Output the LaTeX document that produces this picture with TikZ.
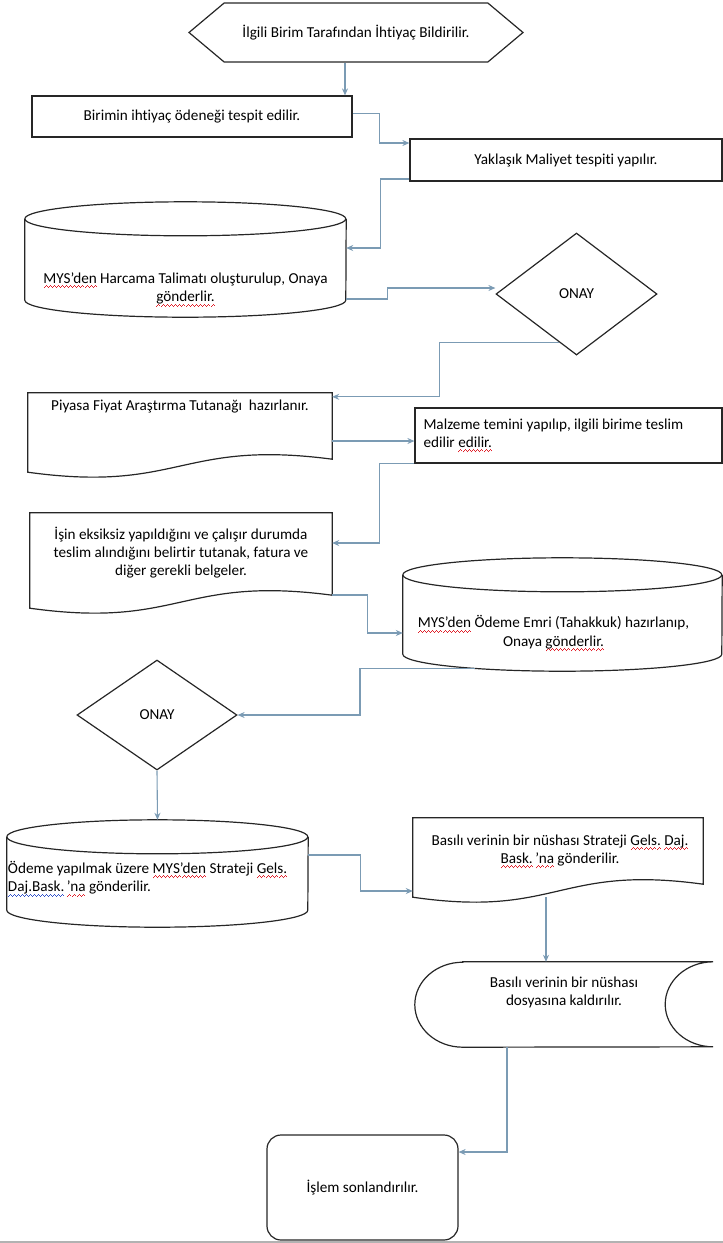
\documentclass[tikz,border=0pt]{standalone}
\usepackage{fontspec}
\setmainfont{Carlito}[Ligatures=NoCommon]
\usetikzlibrary{arrows.meta,shapes.geometric,shapes.symbols}

\definecolor{okmavi}{HTML}{7B9BB4}
\definecolor{spellred}{HTML}{E0202A}
\definecolor{gramblue}{HTML}{3050C8}
\newcommand\wavy[2]{\setbox0\hbox{#2}\rlap{\hbox to \wd0{\color{#1}\xleaders\hbox{\rule[-5pt]{1pt}{1pt}\rule[-4pt]{1pt}{1pt}\rule[-3pt]{1pt}{1pt}\rule[-4pt]{1pt}{1pt}}\hfill}}\box0\relax}
\newcommand\redwave[1]{\wavy{spellred}{#1}}
\newcommand\bluewave[1]{\wavy{gramblue}{#1}}

\begin{document}
\begin{tikzpicture}[x=1pt,y=-1pt,
    font=\fontsize{15.2}{18.3}\selectfont,
    shapeline/.style={draw=black!85, line width=1.2pt},
    pbox/.style={rectangle, shapeline, inner sep=0pt, align=center},
    sig/.style={signal, signal to=west and east, signal pointer angle=80, shapeline, inner sep=0pt},
    dec/.style={diamond, shapeline, inner sep=0pt},
    shp/.style={rectangle, inner sep=0pt},
    lbl/.style={inner sep=0pt, align=center},
    flow/.style={draw=okmavi, line width=1.1pt, ->},
    >={Stealth[length=7pt,width=6pt]}]
  \useasboundingbox (0,0) rectangle (723,1243);

  % adimlar
  \node[sig, minimum width=334pt, minimum height=59pt] (bildir) at (356,32.5) {İlgili Birim Tarafından İhtiyaç Bildirilir.};
  \node[pbox, minimum width=320pt, minimum height=41pt] (birim) at (192,116.5) {Birimin ihtiyaç ödeneği tespit edilir.};
  \node[pbox, minimum width=312pt, minimum height=42pt] (maliyet) at (566,160) {Yaklaşık Maliyet tespiti yapılır.};
  \node[shp, minimum width=321pt, minimum height=115pt] (harcama) at (185.5,259.5) {};
  \node[lbl] (harcamaT) at ([yshift=-30pt]harcama.center) {\redwave{MYS’den} Harcama Talimatı oluşturulup, Onaya\\\redwave{gönderlir.}};
  \node[dec, minimum width=161pt, minimum height=122pt] (onay1) at (576.5,294) {ONAY};
  \node[shp, minimum width=304pt, minimum height=79pt] (piyasa) at (180,432.5) {};
  \node[lbl] (piyasaT) at ([yshift=-14pt]piyasa.north) {Piyasa Fiyat Araştırma Tutanağı\ \ hazırlanır.};
  \node[pbox, text width=290pt, align=flush left, inner xsep=8.5pt, minimum height=55pt] (malzeme) at (568.5,435.5) {Malzeme temini yapılıp, ilgili birime teslim\\edilir \redwave{edilir.}};
  \node[shp, minimum width=302pt, minimum height=95pt] (isin) at (181,560.5) {};
  \node[lbl] (isinT) at ([yshift=8pt]isin.center) {İşin eksiksiz yapıldığını ve çalışır durumda\\teslim alındığını belirtir tutanak, fatura ve\\diğer gerekli belgeler.};
  \node[shp, minimum width=319pt, minimum height=113pt] (tahakkuk) at (562.5,614.5) {};
  \node[lbl] (tahakkukT) at ([xshift=-9pt,yshift=-19pt]tahakkuk.center) {\redwave{MYS’den} Ödeme Emri (Tahakkuk) hazırlanıp,\\Onaya \redwave{gönderlir.}};
  \node[dec, minimum width=160pt, minimum height=110pt] (onay2) at (157,715) {ONAY};
  \node[shp, minimum width=301pt, minimum height=107pt] (odeme) at (157.5,873.5) {};
  \node[lbl, anchor=west, align=left] (odemeT) at ([xshift=1pt,yshift=-5.5pt]odeme.west) {Ödeme yapılmak üzere \redwave{MYS’den} Strateji \redwave{Gels.}\\\bluewave{Daj.Bask.}\,\redwave{’na} gönderilir.};
  \node[shp, minimum width=290pt, minimum height=79pt] (basili) at (558,857.5) {};
  \node[lbl] (basiliT) at ([xshift=2pt,yshift=6pt]basili.center) {Basılı verinin bir nüshası Strateji \redwave{Gels.} \redwave{Daj.}\\\redwave{Bask.}\,\redwave{’na} gönderilir.};
  \node[shp, minimum width=298pt, minimum height=85pt] (kaldir) at (564,1004.5) {};
  \node[lbl] (kaldirT) at ([yshift=12pt]kaldir.center) {Basılı verinin bir nüshası\\dosyasına kaldırılır.};
  \node[pbox, rounded corners=14pt, minimum width=191pt, minimum height=105pt] (islem) at (362.5,1187.5) {İşlem sonlandırılır.};

  % veri tabani silindirleri
  \foreach \n/\r in {harcama/160.5,tahakkuk/159.5,odeme/150.5}{
    \draw[shapeline] ([yshift=-17pt]\n.north west) arc[start angle=180,end angle=540,x radius=\r pt,y radius=17pt];
    \draw[shapeline] ([yshift=-17pt]\n.north west) -- ([yshift=17pt]\n.south west)
      arc[start angle=180,end angle=360,x radius=\r pt,y radius=17pt] -- ([yshift=-17pt]\n.north east);
  }
  % belge sekilleri
  \foreach \n in {piyasa,isin,basili}
    \draw[shapeline] (\n.north west) -- (\n.north east) -- ([yshift=13pt]\n.south east)
      .. controls ([yshift=33pt]\n.south) and ([yshift=-21pt]\n.south) .. (\n.south west) -- cycle;
  % saklanan veri
  \draw[shapeline] ([xshift=48pt]kaldir.north west) -- (kaldir.north east)
    arc[start angle=90,end angle=270,x radius=48pt,y radius=42.5pt] -- ([xshift=48pt]kaldir.south west)
    arc[start angle=270,end angle=90,x radius=48pt,y radius=42.5pt] -- cycle;

  % baglantilar
  \draw[flow] ([xshift=-11pt]bildir.south) -- ([xshift=-11pt]bildir.south |- birim.north);
  \draw[flow] ([yshift=3pt]birim.east) -- ++(27,0) |- ([yshift=17pt]maliyet.west);
  \draw[flow] ([yshift=-19pt]maliyet.west) -- ++(-29,0) |- ([yshift=11.5pt]harcama.east);
  \draw[flow] ([yshift=-39.5pt]harcama.east) -- ++(41,0) |- ([yshift=6pt]onay1.west);
  \draw[flow] (onay1.250) -- ++(-119,0) |- ([yshift=-4pt]piyasa.north east);
  \draw[flow] ([yshift=-8.5pt]piyasa.east) -- ([yshift=-8.5pt]piyasa.east -| malzeme.west);
  \draw[flow] (malzeme.south west) -- ++(-35,0) |- ([yshift=17.5pt]isin.east);
  \draw[flow] ([yshift=-34.5pt]isin.east) -- ++(35,0) |- ([yshift=-18.5pt]tahakkuk.west);
  \draw[flow] ([xshift=-87.5pt,yshift=3pt]tahakkuk.south) -- ++(-115,0) |- (onay2.east);
  \draw[flow] (onay2.south) -- (odeme.north);
  \draw[flow] ([yshift=18.5pt]odeme.east) -- ++(52,0) |- ([yshift=-33.5pt]basili.west);
  \draw[flow] ([xshift=-12pt]basili.south) -- ([xshift=-12pt]basili.south |- kaldir.north);
  \draw[flow] ([xshift=-57pt]kaldir.south) |- ([yshift=35.5pt]islem.east);

  \draw[black!30, line width=2pt] (0,1242) -- (723,1242);
\end{tikzpicture}
\end{document}
